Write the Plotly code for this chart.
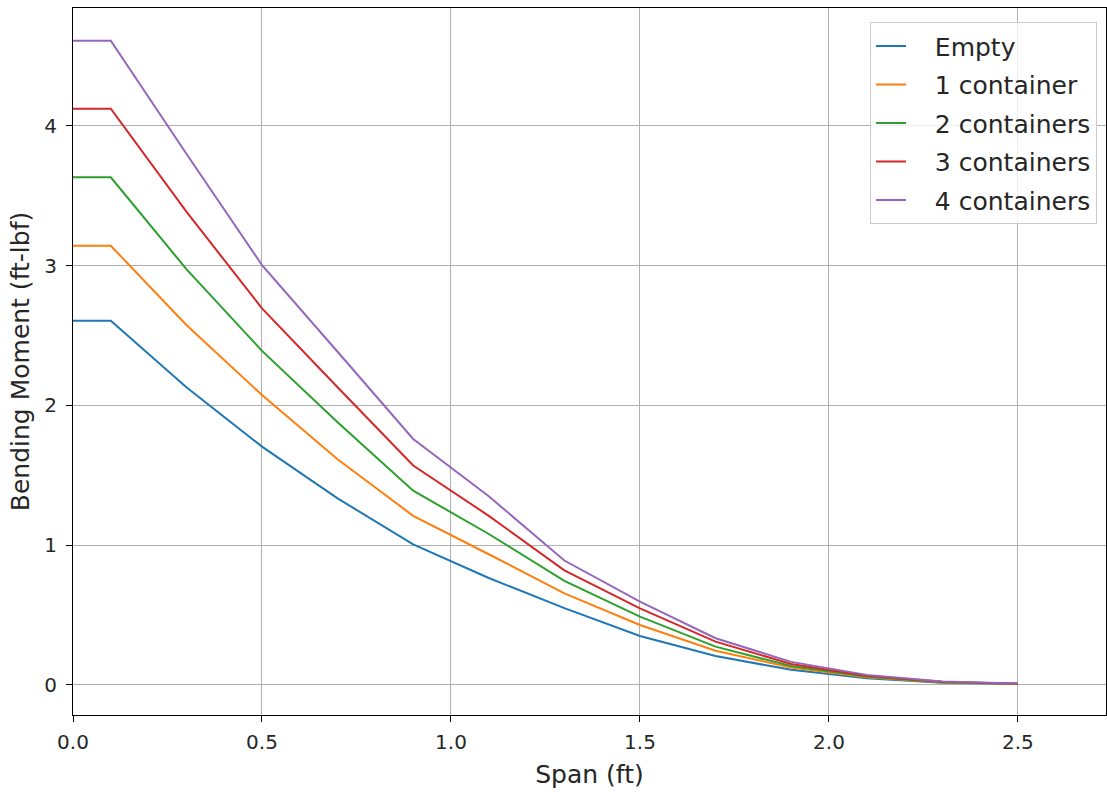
import plotly.graph_objects as go

span_ft = [0.0, 0.1, 0.3, 0.5, 0.7, 0.9, 1.1, 1.3, 1.5, 1.7, 1.9, 2.1, 2.3, 2.5]

empty = [2.606, 2.606, 2.13, 1.705, 1.335, 1.005, 0.765, 0.55, 0.35, 0.207, 0.108, 0.048, 0.015, 0.008]
one_container = [3.142, 3.142, 2.575, 2.074, 1.615, 1.21, 0.935, 0.655, 0.429, 0.245, 0.125, 0.055, 0.018, 0.008]
two_containers = [3.632, 3.632, 2.975, 2.39, 1.88, 1.39, 1.08, 0.745, 0.489, 0.274, 0.135, 0.06, 0.02, 0.008]
three_containers = [4.123, 4.123, 3.386, 2.694, 2.13, 1.57, 1.21, 0.82, 0.548, 0.31, 0.15, 0.065, 0.022, 0.009]
four_containers = [4.609, 4.609, 3.80, 3.004, 2.384, 1.76, 1.35, 0.89, 0.596, 0.334, 0.165, 0.072, 0.024, 0.01]

series_names = ["Empty", "1 container", "2 containers", "3 containers", "4 containers"]
series_values = [empty, one_container, two_containers, three_containers, four_containers]
colors = ["#1f77b4", "#ff7f0e", "#2ca02c", "#d62728", "#9467bd"]

x_ticks = [0.0, 0.5, 1.0, 1.5, 2.0, 2.5]
y_ticks = [0, 1, 2, 3, 4]

pad = "\u00a0\u00a0\u00a0"

fig = go.Figure()
for i, (name, vals, c) in enumerate(zip(series_names, series_values, colors)):
    fig.add_trace(go.Scatter(x=span_ft, y=vals, mode="lines", name=pad + name,
                             legendgroup=f"g{i}",
                             line=dict(color=c, width=2)))

font_family = "DejaVu Sans"
axis_common = dict(
    showline=True, linecolor="black", linewidth=1, mirror=True,
    ticks="outside", ticklen=6, tickcolor="black", tickwidth=1,
    showgrid=True, gridcolor="#b0b0b0", gridwidth=1.2,
    zeroline=False, automargin=False,
    tickfont=dict(family=font_family, size=20, color="#262626"),
)

fig.update_layout(
    width=1107, height=792,
    margin=dict(l=73, r=1, t=8, b=77, autoexpand=False),
    paper_bgcolor="white", plot_bgcolor="white",
    font=dict(family=font_family, color="#262626"),
    xaxis=dict(range=[0, 2.733], tickvals=x_ticks, tickformat=".1f", ticklabelstandoff=3,
               title=dict(text="Span (ft)", font=dict(family=font_family, size=25, color="#262626"), standoff=12),
               **axis_common),
    yaxis=dict(range=[-0.215, 4.843], tickvals=y_ticks, ticklabelstandoff=5,
               title=dict(text="Bending Moment (ft-lbf)", font=dict(family=font_family, size=25, color="#262626"), standoff=7),
               **axis_common),
    legend=dict(x=0.9913, y=0.980, xanchor="right", yanchor="top",
                bgcolor="rgba(255,255,255,0.8)", bordercolor="#cccccc", borderwidth=1,
                font=dict(family=font_family, size=25, color="#262626"),
                traceorder="grouped", tracegroupgap=3),
    showlegend=True,
)

fig.write_html("out.html",
               config={"displayModeBar": False},
               post_script="document.body.style.margin='0';document.body.style.overflow='hidden';")
